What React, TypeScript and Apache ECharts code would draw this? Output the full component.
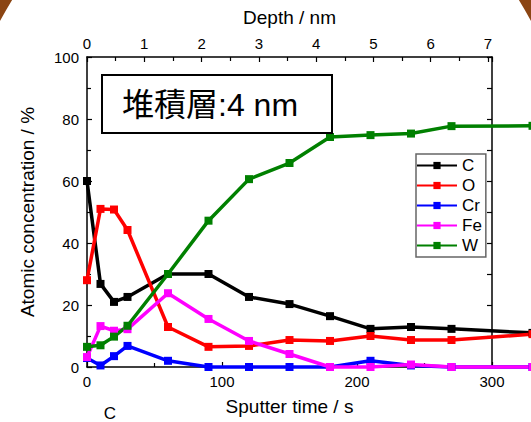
import React, { useEffect, useRef } from "react";
import * as echarts from "echarts";

const times = [0, 10, 20, 30, 60, 90, 120, 150, 180, 210, 240, 270, 330];
const seriesNames = ["C", "O", "Cr", "Fe", "W"];
const seriesColors = ["#000000", "#ff0000", "#0000ff", "#ff00ff", "#008000"];
const valuesC = [60, 26.8, 21, 22.6, 30, 30, 22.6, 20.3, 16.4, 12.3, 12.9, 12.3, 11];
const valuesO = [28, 51, 50.8, 44.2, 12.9, 6.5, 6.8, 8.7, 8.4, 10, 8.7, 8.7, 10.6];
const valuesCr = [2.9, 0.5, 3.5, 6.8, 2, 0, 0, 0, 0, 2, 0.5, 0, 0];
const valuesFe = [3.2, 13.2, 11.7, 12.2, 23.8, 15.5, 8.4, 4.2, 0, 0, 0.8, 0, 0];
const valuesW = [6.5, 7, 9.8, 13.3, 30, 47.2, 60.6, 65.8, 74.2, 74.8, 75.3, 77.7, 77.8];
const allValues = [valuesC, valuesO, valuesCr, valuesFe, valuesW];

const annotationText = "堆積層:4 nm";
const footText = "C";

const FONT = "'Liberation Sans', Arial, 'Noto Sans CJK JP', sans-serif";

export default function App() {
  const ref = useRef<HTMLDivElement>(null);
  useEffect(() => {
    document.body.style.margin = "0";
    if (!ref.current) return;
    const chart = echarts.init(ref.current, null, { renderer: "svg" });
    const mkLine = () => ({ show: true, onZero: false, lineStyle: { color: "#000", width: 1.5 } });
    const mkTick = () => ({ show: true, inside: true, length: 5, lineStyle: { color: "#000", width: 1.2 } });
    const mkMinor = () => ({ show: true, splitNumber: 2, length: 4, lineStyle: { color: "#000", width: 1.2 } });
    const labelStyle = { color: "#000", fontSize: 15, fontFamily: FONT };
    const nameStyle = { color: "#000", fontSize: 19, fontFamily: FONT };
    // the data area runs past the frame: same scale as the framed grid (1.35 px per s)
    const plotLeft = 87;
    const frameRight = 492;
    const pxPerSecond = (frameRight - plotLeft) / 300;
    const wideMax = (531 - plotLeft) / pxPerSecond;
    const option: any = {
      animation: false,
      backgroundColor: "#fff",
      textStyle: { fontFamily: FONT },
      grid: [
        { left: plotLeft, right: 531 - frameRight, top: 57, bottom: 55, containLabel: false },
        { left: plotLeft, right: 0, top: 57, bottom: 55, containLabel: false },
      ],
      xAxis: [
        {
          type: "value",
          gridIndex: 0,
          position: "bottom",
          min: 0,
          max: 300,
          interval: 100,
          axisLine: mkLine(),
          axisTick: mkTick(),
          minorTick: mkMinor(),
          splitLine: { show: false },
          axisLabel: { ...labelStyle, margin: 7 },
          name: "Sputter time / s",
          nameLocation: "middle",
          nameGap: 30,
          nameTextStyle: nameStyle,
        },
        {
          type: "value",
          gridIndex: 0,
          position: "top",
          min: 0,
          max: 7.07,
          interval: 1,
          axisLine: mkLine(),
          axisTick: mkTick(),
          minorTick: mkMinor(),
          splitLine: { show: false },
          axisLabel: { ...labelStyle, margin: 6, showMaxLabel: false },
          name: "Depth / nm",
          nameLocation: "middle",
          nameGap: 30,
          nameTextStyle: nameStyle,
        },
        {
          type: "value",
          gridIndex: 1,
          min: 0,
          max: wideMax,
          show: false,
        },
      ],
      yAxis: [
        {
          type: "value",
          gridIndex: 0,
          position: "left",
          min: 0,
          max: 100,
          interval: 20,
          axisLine: mkLine(),
          axisTick: mkTick(),
          minorTick: mkMinor(),
          splitLine: { show: false },
          axisLabel: { ...labelStyle, margin: 8 },
          name: "Atomic concentration / %",
          nameLocation: "middle",
          nameRotate: 90,
          nameGap: 50,
          nameTextStyle: nameStyle,
        },
        {
          type: "value",
          gridIndex: 0,
          position: "right",
          min: 0,
          max: 100,
          interval: 10,
          axisLine: mkLine(),
          axisTick: mkTick(),
          splitLine: { show: false },
          axisLabel: { show: false },
        },
        {
          type: "value",
          gridIndex: 1,
          min: 0,
          max: 100,
          show: false,
        },
      ],
      legend: {
        orient: "vertical",
        left: 416,
        top: 154,
        data: seriesNames,
        itemWidth: 40,
        itemHeight: 9,
        itemGap: 3,
        padding: [3, 4, 3, 0],
        borderColor: "#666",
        borderWidth: 1.5,
        backgroundColor: "#fff",
        textStyle: { color: "#000", fontSize: 17, fontFamily: FONT },
      },
      graphic: [
        {
          type: "ellipse",
          shape: { cx: 265.5, cy: 330, rx: 345, ry: 503 },
          style: { fill: "none", stroke: "#8B4513", lineWidth: 12 },
          silent: true,
          z: 100,
        },
        {
          type: "rect",
          shape: { x: 102, y: 75, width: 230, height: 58 },
          style: { fill: "#fff", stroke: "#000", lineWidth: 2 },
          z: 50,
        },
        {
          type: "text",
          x: 122,
          y: 105,
          style: {
            text: annotationText,
            fontSize: 32,
            fontFamily: FONT,
            fill: "#000",
            verticalAlign: "middle",
            align: "left",
          },
          z: 51,
        },
        {
          type: "text",
          x: 110,
          y: 413,
          style: {
            text: footText,
            fontSize: 17,
            fontFamily: FONT,
            fill: "#000",
            verticalAlign: "middle",
            align: "center",
          },
        },
      ],
      series: seriesNames.map((name, i) => ({
        name,
        type: "line",
        xAxisIndex: 2,
        yAxisIndex: 2,
        data: times.map((t, j) => [t, allValues[i][j]]),
        symbol: "rect",
        symbolSize: 8,
        clip: false,
        color: seriesColors[i],
        itemStyle: { color: seriesColors[i] },
        lineStyle: { color: seriesColors[i], width: 3.5 },
      })),
    };
    chart.setOption(option);
    return () => chart.dispose();
  }, []);
  return <div ref={ref} style={{ width: 531, height: 422 }} />;
}
